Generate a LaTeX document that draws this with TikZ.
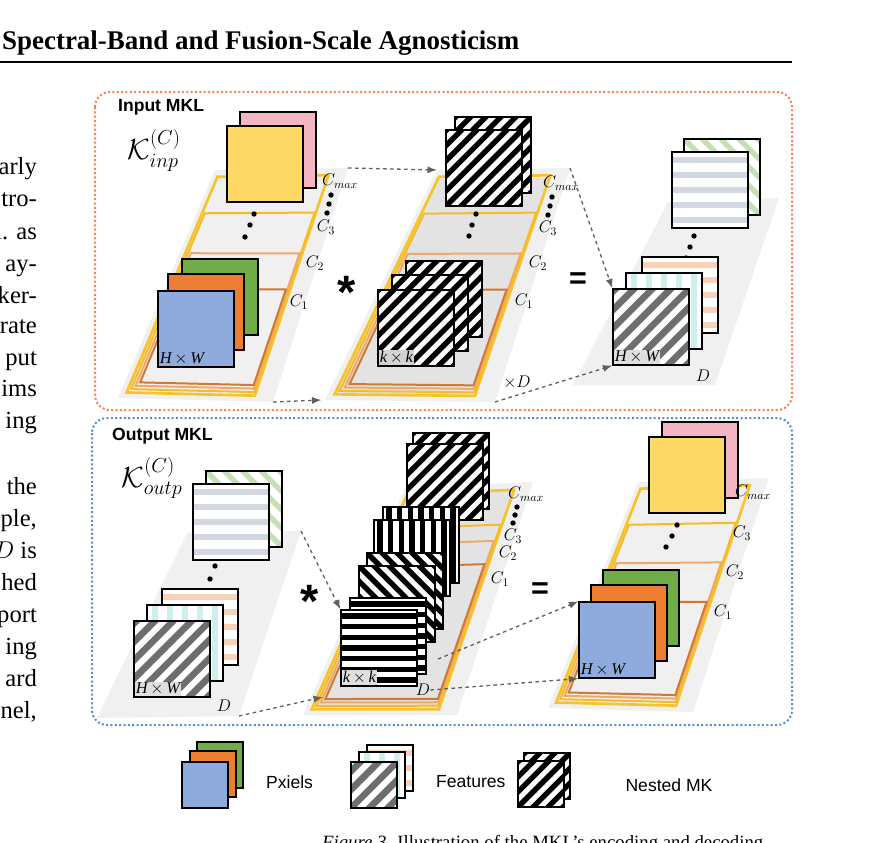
\documentclass[tikz,border=0pt]{standalone}
\usepackage{amsmath, amssymb}
\usepackage{fontspec}
\setmainfont{Liberation Serif}
\setsansfont{Liberation Sans}
\usepackage{tikz}
\usetikzlibrary{arrows.meta,calc,positioning}
\definecolor{pixblue}{HTML}{8FAADC}
\definecolor{pixorange}{HTML}{ED7D31}
\definecolor{pixgreen}{HTML}{70AD47}
\definecolor{pixyellow}{HTML}{FFD966}
\definecolor{pixpink}{HTML}{F4B6C2}
\definecolor{ringmax}{HTML}{F5C32C}
\definecolor{ringtwo}{HTML}{F0A868}
\definecolor{ringone}{HTML}{CF7A30}
\definecolor{featgray}{HTML}{6E6E6E}
\definecolor{featlite}{HTML}{D3D8E0}
\definecolor{featgreen}{HTML}{C5E0B4}
\definecolor{featcyan}{HTML}{CFEFEC}
\definecolor{featpeach}{HTML}{F8D2B8}
\tikzstyle{map} = [draw, fill=white, minimum size=2.28cm, inner sep=0pt, line width=0.035cm]
\tikzstyle{mini} = [map, minimum size=1.38cm]
\tikzstyle{line} = [draw, dashed, gray!75!black, line width=0.04cm, -Latex]
\tikzstyle{clab} = [font=\rmfamily\fontsize{14}{14}\selectfont, inner sep=0pt]
\tikzstyle{dimlab} = [font=\rmfamily\fontsize{14}{14}\selectfont\itshape, inner sep=1pt]
\tikzstyle{legend} = [font=\sffamily\fontsize{15}{16}\selectfont]
\tikzstyle{body} = [font=\rmfamily\fontsize{21}{24}\selectfont]
\tikzstyle{op} = [font=\sffamily\bfseries\fontsize{26}{26}\selectfont]
\tikzstyle{plane} = [fill=gray!12]
\tikzset{
  stripes/.style n args={4}{path picture={
      \foreach \i in {-9,...,9}
        \draw[#1, line width=#2] (path picture bounding box.center)
          ++(#4:\i*#3) ++(#4+90:2cm) -- ++(#4-90:4cm);}},
  kdiag/.style={stripes={black}{0.16cm}{0.32cm}{-45}},
  kback/.style={stripes={black}{0.16cm}{0.32cm}{45}},
  kvert/.style={stripes={black}{0.16cm}{0.32cm}{0}},
  khori/.style={stripes={black}{0.16cm}{0.32cm}{90}},
  fdiag/.style={stripes={featgray}{0.2cm}{0.39cm}{-45}},
  fhori/.style={stripes={featlite}{0.2cm}{0.45cm}{90}},
  fgreen/.style={stripes={featgreen}{0.16cm}{0.39cm}{45}},
  fcyan/.style={stripes={featcyan}{0.2cm}{0.45cm}{0}},
  fpeach/.style={stripes={featpeach}{0.2cm}{0.45cm}{90}},
  cmax/.style={draw=ringmax, line width=0.08cm},
  cthree/.style={draw=ringmax!90!orange, line width=0.06cm},
  ctwo/.style={draw=ringtwo, line width=0.06cm},
  cone/.style={draw=ringone, line width=0.06cm}
}
% point (u,v) inside a plane
\newcommand{\pp}[3]{($($(#1-tl)!#3!(#1-bl)$)!#2!($(#1-tr)!#3!(#1-br)$)$)}
\newcommand{\plane}[5]{
  \coordinate (#1-tl) at (#2); \coordinate (#1-tr) at (#3);
  \coordinate (#1-br) at (#4); \coordinate (#1-bl) at (#5);
  \fill[plane] (#1-tl) -- (#1-tr) -- (#1-br) -- (#1-bl) -- cycle;}
\newcommand{\ring}[6]{\draw[#6] \pp{#1}{#2}{#3} -- \pp{#1}{#4}{#3} -- \pp{#1}{#4}{#5} -- \pp{#1}{#2}{#5} -- cycle;}
\newcommand{\rings}[4]{
  \ring{#1}{.04}{.03}{.87}{.975}{cmax}
  \ring{#1}{.06}{#2}{.86}{.96}{cthree}
  \ring{#1}{.08}{#3}{.85}{.945}{ctwo}
  \ring{#1}{.10}{#4}{.84}{.93}{cone}}
\newcommand{\threedots}[3]{\foreach \p in {#1,#2,#3} \fill \p circle (0.08cm);}

\begin{document}
\begin{tikzpicture}[x=0.03cm, y=-0.03cm, font=\sffamily]
  \useasboundingbox (0,0) rectangle (883,843);
  % page text
  \node[anchor=west, font=\rmfamily\bfseries\fontsize{23}{26}\selectfont] (title) at (-2,43) {Spectral-Band and Fusion-Scale Agnosticism};
  \draw[line width=0.06cm] (0,62) -- (792,62);
  \foreach \y/\t in {168/arly, 200/tro-, 232/{l. as}, 264/ay-, 296/ker-, 326/rate, 358/put, 389/ims, 421/ing,
      487/the, 519/{ple,}, 551/{$D$ is}, 583/hed, 615/port, 647/ing, 679/ard, 711/{nel,}}
    \node[body, anchor=base east] at (41,\y+7) {\t};
  \node[anchor=north west, font=\rmfamily\fontsize{16}{18}\selectfont] (caption) at (318,831) {\textit{Figure 3.} Illustration of the MKL's encoding and decoding};

  % boxes
  \draw[draw=red!45!orange!70, dotted, line width=0.06cm, rounded corners=0.45cm] (95,92) rectangle (792,410);
  \draw[draw=cyan!50!blue!70, dotted, line width=0.06cm, rounded corners=0.45cm] (92,418) rectangle (792,725);
  \node[anchor=west, font=\sffamily\bfseries\fontsize{15}{16}\selectfont] (intitle) at (114,107) {Input MKL};
  \node[anchor=west, font=\sffamily\bfseries\fontsize{15}{16}\selectfont] (outtitle) at (108,436) {Output MKL};
  \node[font=\fontsize{24}{24}\selectfont, inner sep=0pt] (kin) at (154,150) {$\mathcal{K}^{(C)}_{inp}$};
  \node[font=\fontsize{24}{24}\selectfont, inner sep=0pt] (kout) at (152,478) {$\mathcal{K}^{(C)}_{outp}$};

  % ---------- input MKL ----------
  \plane{inpix}{215,170}{348,168}{273,402}{118,398}
  \rings{inpix}{.19}{.365}{.52}
  \plane{inker}{437,170}{570,168}{495,402}{325,400}
  \fill[gray!22] \pp{inker}{.05}{.04} -- \pp{inker}{.86}{.04} -- \pp{inker}{.86}{.97} -- \pp{inker}{.05}{.97} -- cycle;
  \rings{inker}{.19}{.365}{.52}
  \plane{infeat}{668,202}{779,198}{715,385}{573,385}

  \node[map, fill=pixpink] (inpink) at (278,150) {};
  \node[map, fill=pixyellow] (inyellow) at (265,164) {};
  \threedots{(254,214)}{(250,225)}{(245,237)}
  \node[map, fill=pixgreen] (ingreen) at (220,297) {};
  \node[map, fill=pixorange] (inorange) at (206,312) {};
  \node[map, fill=pixblue] (inblue) at (196,329) {};
  \node[dimlab, anchor=south west] at ([shift={(1,-1)}]inblue.south west) {H\,$\times$\,W};

  \node[map, kdiag] (ink-top2) at (493,155) {};
  \node[map, kdiag] (ink-top1) at (484,168) {};
  \threedots{(476,214)}{(472,225)}{(469,236)}
  \node[map, kdiag] (ink-3) at (444,299) {};
  \node[map, kdiag] (ink-2) at (430,313) {};
  \node[map, kdiag] (ink-1) at (416,328) {};
  \node[dimlab, anchor=south west, fill=gray!35] at ([shift={(1,-1)}]ink-1.south west) {k\,$\times$\,k};

  \node[map, fgreen] (inf-green) at (722,177) {};
  \node[map, fhori] (inf-gray) at (710,190) {};
  \threedots{(694,236)}{(690,247)}{(686,258)}
  \node[map, fpeach] (inf-peach) at (680,295) {};
  \node[map, fcyan] (inf-cyan) at (664,311) {};
  \node[map, fdiag] (inf-diag) at (651,327) {};
  \node[dimlab, anchor=south west, fill=gray!25] at ([shift={(1,-1)}]inf-diag.south west) {H\,$\times$\,W};

  \node[clab] at (340,181) {$C_{max}$};
  \threedots{(331,195)}{(329,204)}{(327,213)}
  \node[clab] at (326,227) {$C_3$};
  \node[clab] at (315,263) {$C_2$};
  \node[clab] at (299,302) {$C_1$};
  \node[clab] at (561,183) {$C_{max}$};
  \threedots{(552,197)}{(550,206)}{(548,215)}
  \node[clab] at (548,228) {$C_3$};
  \node[clab] at (538,263) {$C_2$};
  \node[clab] at (524,301) {$C_1$};
  \node[clab] at (517,382) {$\times D$};
  \node[clab] at (703,376) {$D$};
  \node[op, font=\sffamily\bfseries\fontsize{40}{40}\selectfont] (inconv) at (347,292) {*};
  \node[op] (ineq) at (578,281) {=};

  \path[line] (inpix-tr) -- (inker-tl);
  \path[line] (inpix-br) -- ([xshift=-3]inker-bl);
  \path[line] (inker-tr) -- (inf-diag.north west);
  \path[line] (inker-br) -- (inf-diag.south west);

  % ---------- output MKL ----------
  \plane{outfeat}{187,533}{301,531}{239,716}{97,718}
  \plane{outker}{405,488}{533,482}{457,715}{303,715}
  \fill[gray!22] \pp{outker}{.05}{.03} -- \pp{outker}{.86}{.03} -- \pp{outker}{.86}{.97} -- \pp{outker}{.05}{.97} -- cycle;
  \rings{outker}{.18}{.25}{.35}
  \plane{outpix}{638,482}{769,478}{693,712}{548,708}
  \rings{outpix}{.19}{.36}{.53}

  \node[map, fgreen] (outf-green) at (244,509) {};
  \node[map, fhori] (outf-gray) at (231,522) {};
  \threedots{(215,566)}{(210,579)}{(206,591)}
  \node[map, fpeach] (outf-peach) at (200,627) {};
  \node[map, fcyan] (outf-cyan) at (185,643) {};
  \node[map, fdiag] (outf-diag) at (172,659) {};
  \node[dimlab, anchor=south west, fill=gray!25] at ([shift={(1,-1)}]outf-diag.south west) {H\,$\times$\,W};
  \node[clab] at (224,706) {$D$};

  \node[map, kdiag] (outk-d2) at (451,471) {};
  \node[map, kdiag] (outk-d1) at (445,482) {};
  \node[map, kvert] (outk-v2) at (421,545) {};
  \node[map, kvert] (outk-v1) at (412,558) {};
  \node[map, kback] (outk-b2) at (405,591) {};
  \node[map, kback] (outk-b1) at (397,604) {};
  \node[map, khori] (outk-h2) at (388,636) {};
  \node[map, khori] (outk-h1) at (379,648) {};
  \node[dimlab, anchor=south west, fill=gray!25] at ([shift={(1,-1)}]outk-h1.south west) {k\,$\times$\,k};
  \node[clab] (outk-d) at (423,690) {$D$};

  \node[map, fill=pixpink] (outpink) at (700,460) {};
  \node[map, fill=pixyellow] (outyellow) at (687,475) {};
  \threedots{(677,525)}{(672,536)}{(666,547)}
  \node[map, fill=pixgreen] (outgreen) at (641,608) {};
  \node[map, fill=pixorange] (outorange) at (629,623) {};
  \node[map, fill=pixblue] (outblue) at (617,640) {};
  \node[dimlab, anchor=south west] at ([shift={(1,-1)}]outblue.south west) {H\,$\times$\,W};

  \node[clab] at (526,494) {$C_{max}$};
  \threedots{(517,507)}{(515,515)}{(513,523)}
  \node[clab] at (513,536) {$C_3$};
  \node[clab] at (508,553) {$C_2$};
  \node[clab] at (500,579) {$C_1$};
  \node[clab] at (753,492) {$C_{max}$};
  \node[clab] at (742,533) {$C_3$};
  \node[clab] at (735,572) {$C_2$};
  \node[clab] at (723,612) {$C_1$};
  \node[op, font=\sffamily\bfseries\fontsize{40}{40}\selectfont] (outconv) at (310,601) {*};
  \node[op] (outeq) at (540,591) {=};

  \coordinate (outk-low) at (323,697);
  \coordinate (outk-mid) at (438,659);
  \path[line] (outfeat-tr) -- (outk-h1.north west);
  \path[line] (outfeat-br) -- (outk-low);
  \path[line] (outk-mid) -- (outblue.north west);
  \path[line] (outk-d.east) -- (outblue.south west);

  % ---------- legend ----------
  \node[mini, fill=pixgreen] (lg-green) at (220,765) {};
  \node[mini, fill=pixorange] (lg-orange) at (213,774) {};
  \node[mini, fill=pixblue] (lg-blue) at (205,785) {};
  \node[legend, anchor=west] (lg-pix) at (262,782) {Pxiels};
  \node[mini, fpeach] (lg-peach) at (390,768) {};
  \node[mini, fcyan] (lg-cyan) at (382,775) {};
  \node[mini, fdiag] (lg-diag) at (374,785) {};
  \node[legend, anchor=west] (lg-feat) at (432,782) {Features};
  \node[mini, kdiag] (lg-k2) at (547,776) {};
  \node[mini, kdiag] (lg-k1) at (541,784) {};
  \node[legend] (lg-mk) at (669,785) {Nested MK};
\end{tikzpicture}
\end{document}
